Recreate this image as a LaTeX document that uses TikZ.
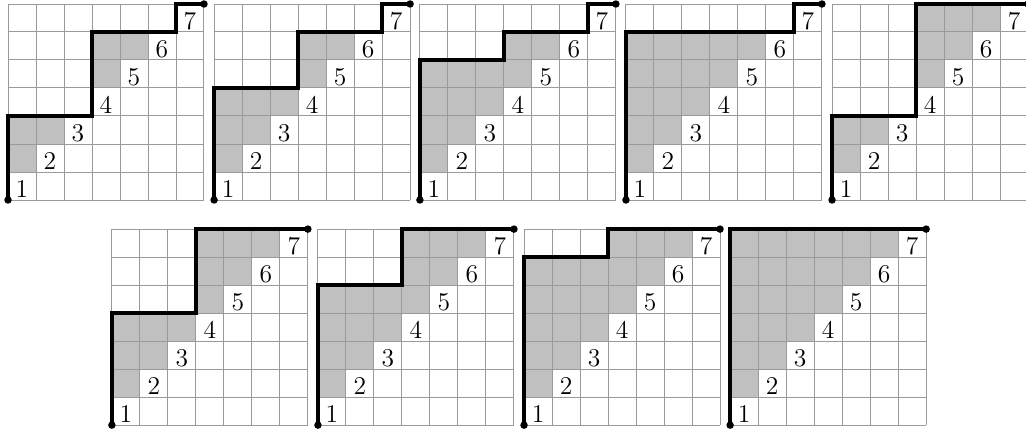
\documentclass[tikz,border=0pt]{standalone}
\usepackage{xcolor}
\definecolor{cellgrey}{HTML}{C0C0C0}
\definecolor{linegrey}{HTML}{9A9A9A}
\usetikzlibrary{calc}

\begin{document}
\begin{tikzpicture}[x=0.5cm, y=0.5cm,
  gridline/.style={draw=linegrey, line width=0.5pt, step=1},
  pathline/.style={line width=2pt, line join=miter},
  enddot/.style={fill=black},
  digit/.style={anchor=base, inner sep=0pt, font=\fontsize{13}{15}\selectfont}]
\useasboundingbox (-0.286, -8.321) rectangle (36.357, 7.143);
% x shift, y shift, height of the path over columns 1-3 and over columns 4-6
\foreach \dx/\dy/\a/\b [count=\n] in {0/0/3/6, 7.36/0/4/6, 14.71/0/5/6, 22.07/0/6/6, 29.43/0/3/7,
    3.71/-8.04/4/7, 11.07/-8.04/5/7, 18.43/-8.04/6/7, 25.79/-8.04/7/7}{
  \begin{scope}[shift={(\dx,\dy)}]
    % cells between the path and the diagonal
    \fill[cellgrey] (0,1) -- (0,\a) -- (3,\a) -- (3,\b) -- (6,\b) -- (6,7) -- (7,7)
      -- (6,7) -- (6,6) -- (5,6) -- (5,5) -- (4,5) -- (4,4) -- (3,4) -- (3,3)
      -- (2,3) -- (2,2) -- (1,2) -- (1,1) -- cycle;
    \draw[gridline] (0,0) grid (7,7);
    \draw[pathline] (0,0) -- (0,\a) -- (3,\a) -- (3,\b) -- (6,\b) -- (6,7) -- (7,7);
    \fill[enddot] (0,0) circle (1.9pt);
    \fill[enddot] (7,7) circle (1.9pt);
    \foreach \k in {1,...,7}
      \node[digit] (lab\n-\k) at (\k-0.5, \k-0.92) {\k};
  \end{scope}
}
\end{tikzpicture}
\end{document}
